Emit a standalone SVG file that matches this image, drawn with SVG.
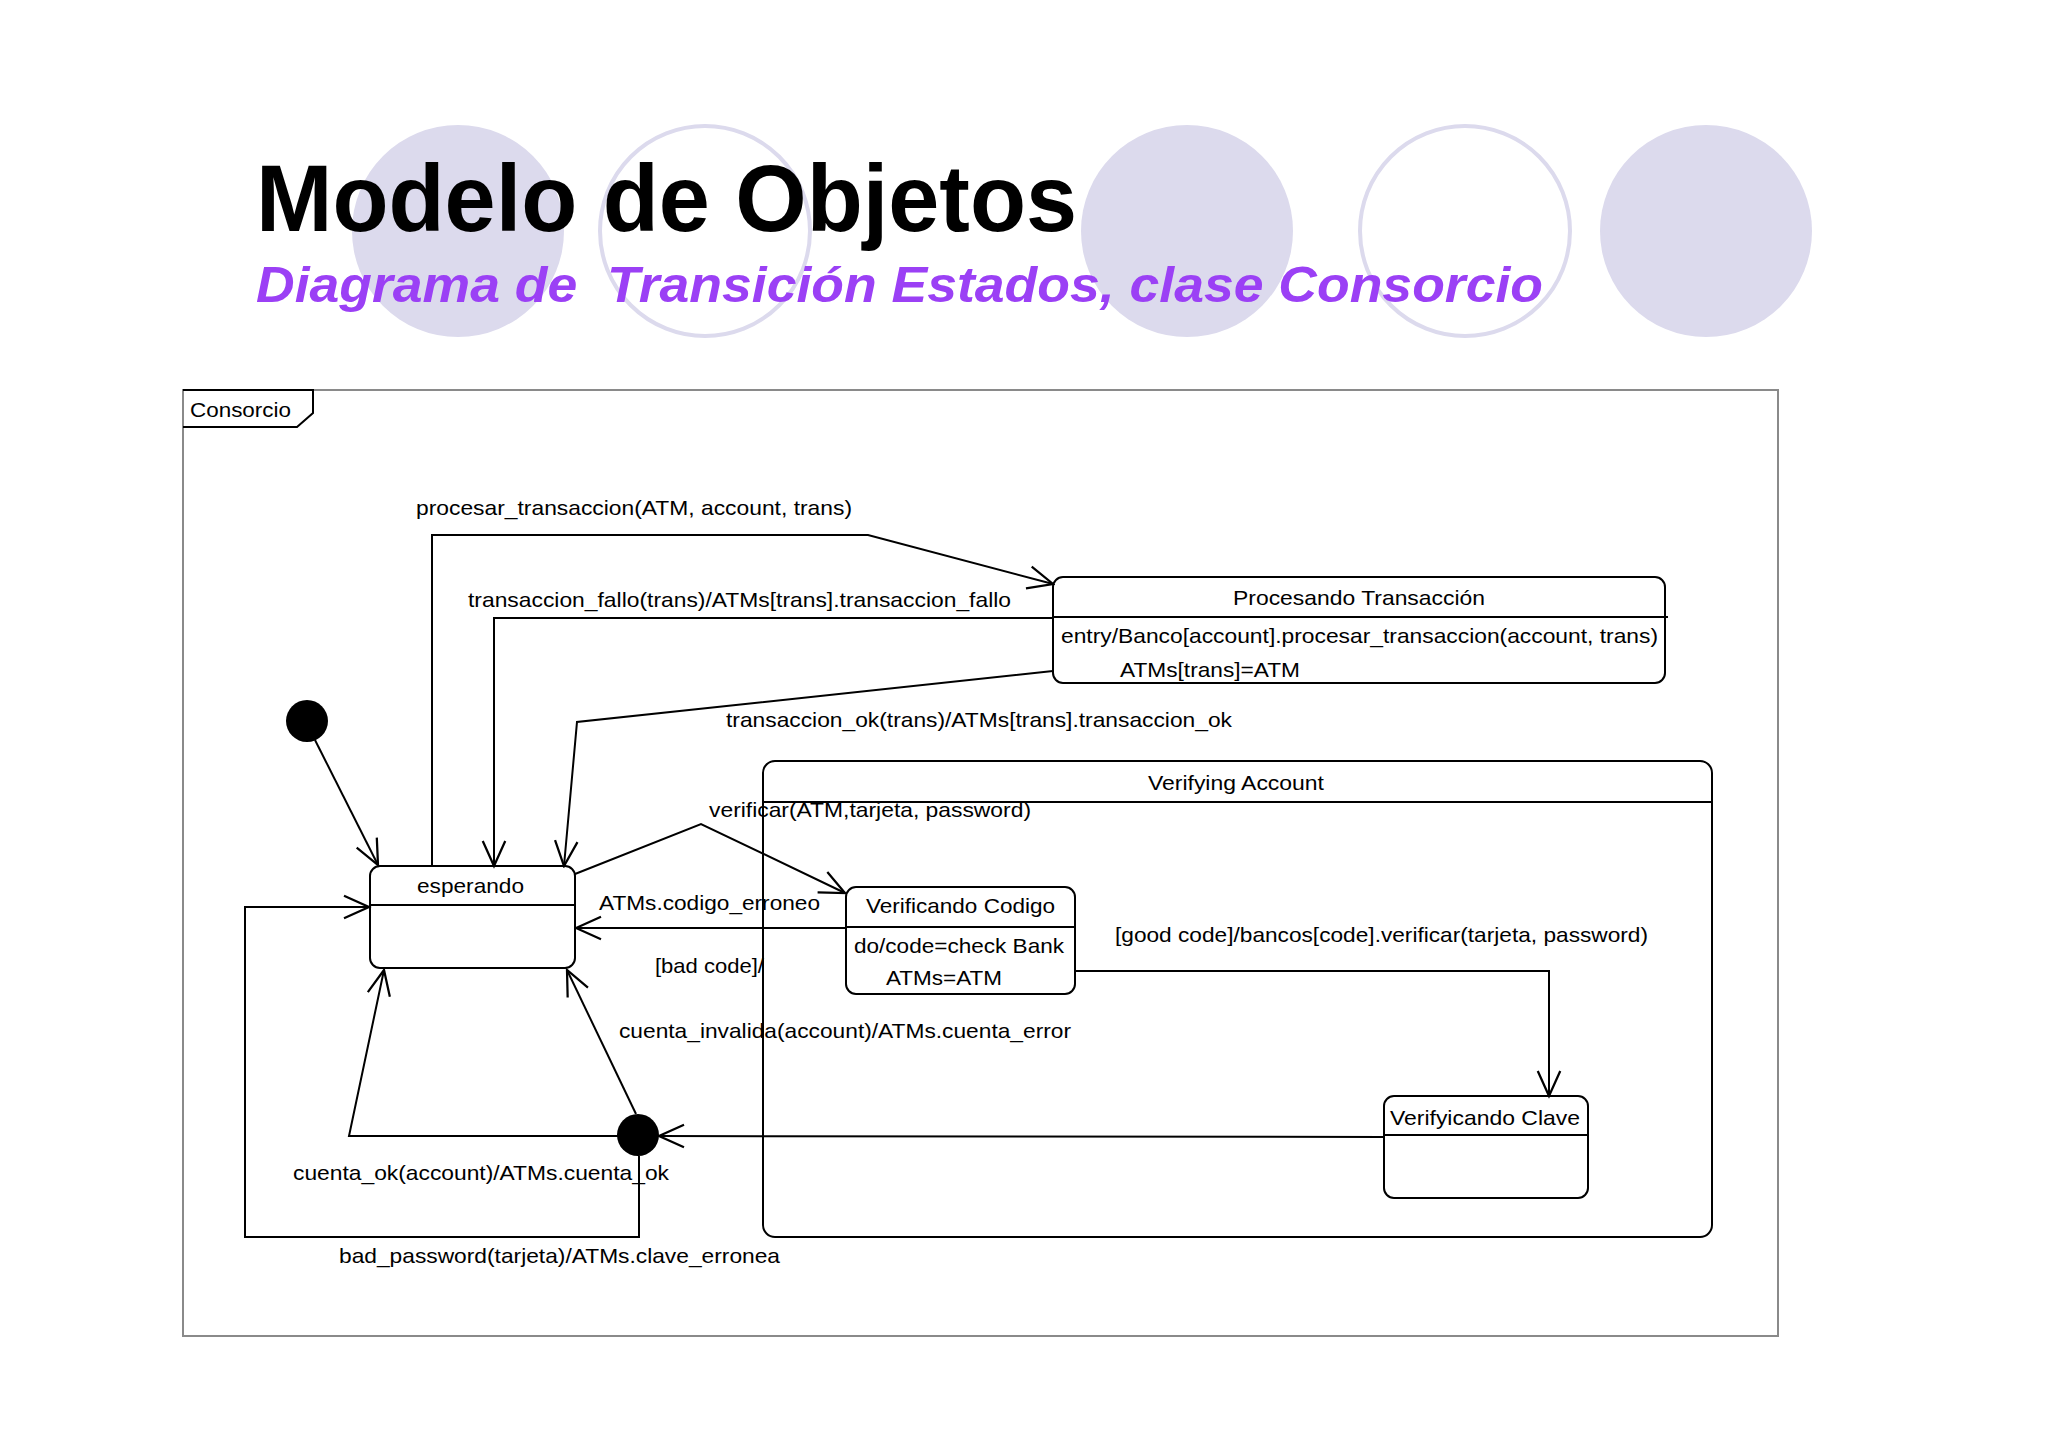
<svg xmlns="http://www.w3.org/2000/svg" width="2048" height="1447" viewBox="0 0 2048 1447">
<defs>
<style>
.bgf{fill:#dcdaed;}
.bgo{fill:#ffffff;stroke:#dcdaed;stroke-width:4;}
.title{font-family:"Liberation Sans",Arial,sans-serif;font-weight:bold;font-size:94px;fill:#000;}
.sub{font-family:"Liberation Sans",Arial,sans-serif;font-weight:bold;font-style:italic;font-size:50px;fill:#9b40f5;}
.lbl{font-family:"Liberation Sans",Arial,sans-serif;font-size:21px;fill:#000;}
.st{fill:#fff;stroke:#000;stroke-width:2;}
.dv{stroke:#000;stroke-width:2;fill:none;}
.cn{fill:none;stroke:#000;stroke-width:2;marker-end:url(#arr);}
</style>
<marker id="arr" markerUnits="userSpaceOnUse" markerWidth="30" markerHeight="30" viewBox="-22 -12 24 24" refX="0" refY="0" orient="auto">
<path d="M-20,-9 L0,0 L-20,9" fill="none" stroke="#000" stroke-width="1.8"/>
</marker>
</defs>
<rect width="2048" height="1447" fill="#ffffff"/>
<g id="background">
<circle class="bgf" cx="458" cy="231" r="106"/>
<circle class="bgo" cx="705" cy="231" r="105"/>
<circle class="bgf" cx="1187" cy="231" r="106"/>
<circle class="bgo" cx="1465" cy="231" r="105"/>
<circle class="bgf" cx="1706" cy="231" r="106"/>
</g>
<text class="title" x="256" y="231" textLength="821" lengthAdjust="spacingAndGlyphs">Modelo de Objetos</text>
<text class="sub" x="256" y="302" textLength="1287" lengthAdjust="spacingAndGlyphs">Diagrama de&#160; Transición Estados, clase Consorcio</text>
<g id="frame">
<rect x="183" y="390" width="1595" height="946" fill="none" stroke="#8a8a8a" stroke-width="2"/>
<path d="M183,390 L313,390 L313,413 L297,427 L183,427" fill="none" stroke="#000" stroke-width="2"/>
<text class="lbl" x="190" y="417" textLength="101" lengthAdjust="spacingAndGlyphs">Consorcio</text>
</g>
<g id="verifying-account">
<rect class="st" x="763" y="761" width="949" height="476" rx="12"/>
<line class="dv" x1="763" y1="802" x2="1712" y2="802"/>
<text class="lbl" x="1148" y="790" textLength="176" lengthAdjust="spacingAndGlyphs">Verifying Account</text>
</g>
<g id="procesando">
<rect class="st" x="1053" y="577" width="612" height="106" rx="10"/>
<line class="dv" x1="1053" y1="617" x2="1668" y2="617"/>
<text class="lbl" x="1233" y="605" textLength="252" lengthAdjust="spacingAndGlyphs">Procesando Transacción</text>
<text class="lbl" x="1061" y="643" textLength="597" lengthAdjust="spacingAndGlyphs">entry/Banco[account].procesar_transaccion(account, trans)</text>
<text class="lbl" x="1120" y="677" textLength="180" lengthAdjust="spacingAndGlyphs">ATMs[trans]=ATM</text>
</g>
<g id="esperando">
<rect class="st" x="370" y="866" width="205" height="102" rx="10"/>
<line class="dv" x1="370" y1="905" x2="575" y2="905"/>
<text class="lbl" x="417" y="893" textLength="107" lengthAdjust="spacingAndGlyphs">esperando</text>
</g>
<g id="verificando-codigo">
<rect class="st" x="846" y="887" width="229" height="107" rx="10"/>
<line class="dv" x1="846" y1="927" x2="1075" y2="927"/>
<text class="lbl" x="866" y="913" textLength="189" lengthAdjust="spacingAndGlyphs">Verificando Codigo</text>
<text class="lbl" x="854" y="953" textLength="210" lengthAdjust="spacingAndGlyphs">do/code=check Bank</text>
<text class="lbl" x="886" y="985" textLength="116" lengthAdjust="spacingAndGlyphs">ATMs=ATM</text>
</g>
<g id="verificando-clave">
<rect class="st" x="1384" y="1096" width="204" height="102" rx="10"/>
<line class="dv" x1="1384" y1="1135" x2="1588" y2="1135"/>
<text class="lbl" x="1390" y="1125" textLength="190" lengthAdjust="spacingAndGlyphs">Verifyicando Clave</text>
</g>
<g id="initial">
<circle cx="307" cy="721" r="21" fill="#000"/>
</g>
<g id="junction">
<circle cx="638" cy="1135" r="21" fill="#000"/>
</g>
<g id="connectors">
<path class="cn" d="M315,740 L378,865"/>
<path class="cn" d="M432,866 L432,535 L868,535 L1053,584"/>
<path class="cn" d="M1053,618 L494,618 L494,866"/>
<path class="cn" d="M1053,671 L577,722 L564,866"/>
<path class="cn" d="M575,874 L701,824 L845,893"/>
<path class="cn" d="M846,928 L576,928"/>
<path class="cn" d="M1075,971 L1549,971 L1549,1096"/>
<path class="cn" d="M1384,1137 L659,1136"/>
<path class="cn" d="M636,1114 L567,970"/>
<path class="cn" d="M618,1136 L349,1136 L384,970"/>
<path class="cn" d="M639,1156 L639,1237 L245,1237 L245,907 L369,907"/>
</g>
<g id="connector-labels">
<text class="lbl" x="416" y="515" textLength="436" lengthAdjust="spacingAndGlyphs">procesar_transaccion(ATM, account, trans)</text>
<text class="lbl" x="468" y="607" textLength="543" lengthAdjust="spacingAndGlyphs">transaccion_fallo(trans)/ATMs[trans].transaccion_fallo</text>
<text class="lbl" x="726" y="727" textLength="506" lengthAdjust="spacingAndGlyphs">transaccion_ok(trans)/ATMs[trans].transaccion_ok</text>
<text class="lbl" x="709" y="817" textLength="322" lengthAdjust="spacingAndGlyphs">verificar(ATM,tarjeta, password)</text>
<text class="lbl" x="599" y="910" textLength="221" lengthAdjust="spacingAndGlyphs">ATMs.codigo_erroneo</text>
<text class="lbl" x="1115" y="942" textLength="533" lengthAdjust="spacingAndGlyphs">[good code]/bancos[code].verificar(tarjeta, password)</text>
<text class="lbl" x="655" y="973" textLength="109" lengthAdjust="spacingAndGlyphs">[bad code]/</text>
<text class="lbl" x="619" y="1038" textLength="452" lengthAdjust="spacingAndGlyphs">cuenta_invalida(account)/ATMs.cuenta_error</text>
<text class="lbl" x="293" y="1180" textLength="376" lengthAdjust="spacingAndGlyphs">cuenta_ok(account)/ATMs.cuenta_ok</text>
<text class="lbl" x="339" y="1263" textLength="441" lengthAdjust="spacingAndGlyphs">bad_password(tarjeta)/ATMs.clave_erronea</text>
</g>
</svg>
